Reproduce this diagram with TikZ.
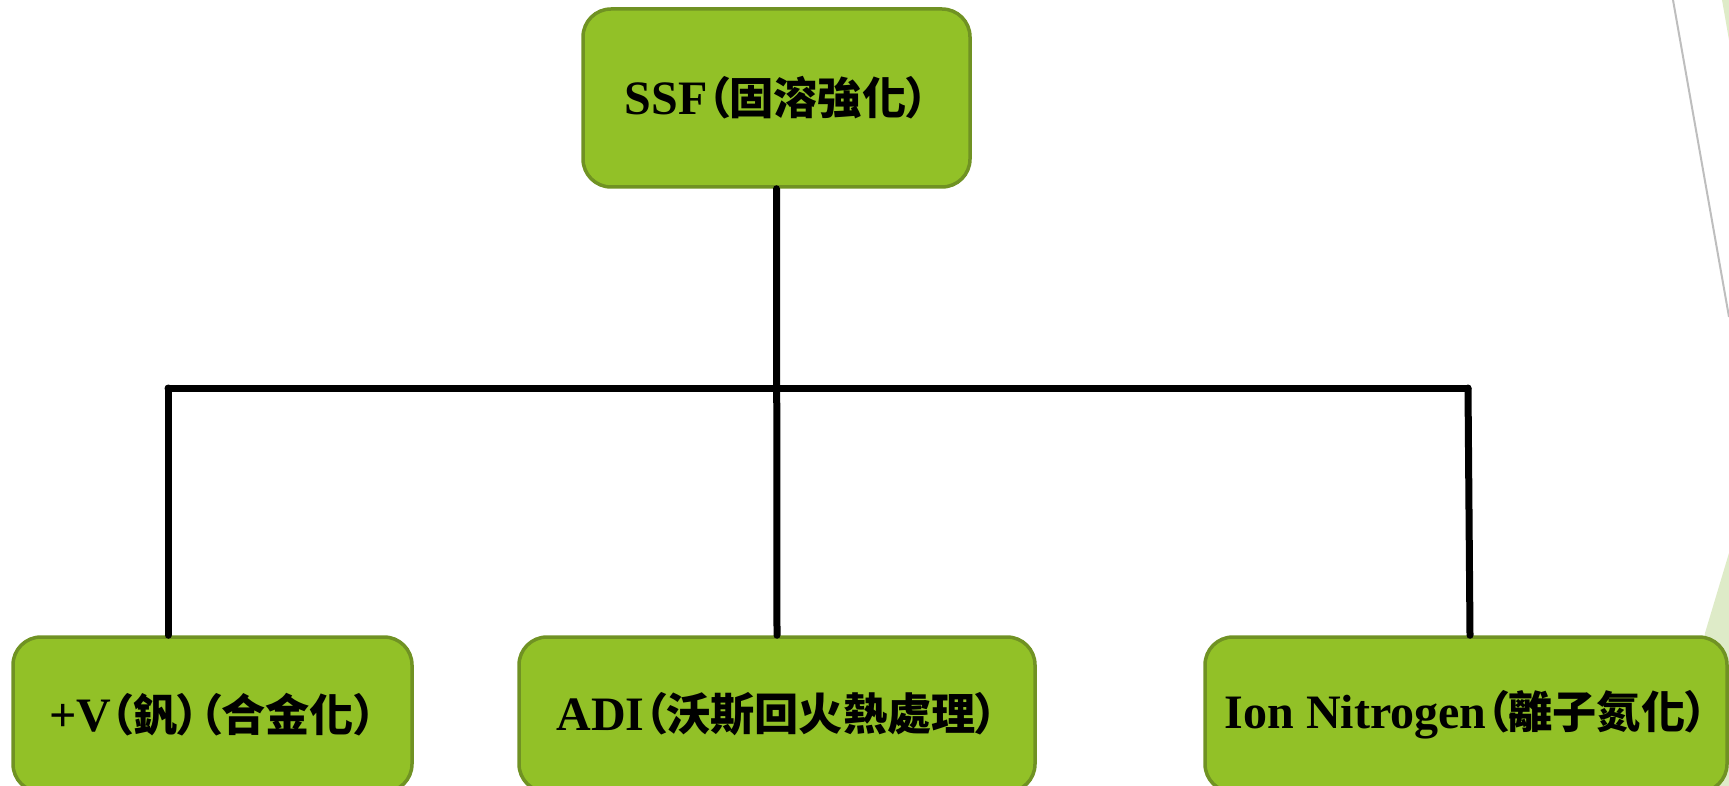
\documentclass[tikz,border=0pt]{standalone}
\usepackage{fontspec}
\setmainfont{Liberation Serif}
\newfontfamily\cjk{Noto Sans CJK TC}[RawFeature=+palt,Scale=0.92]
\definecolor{ssfcolor0000}{RGB}{146,193,39}
\definecolor{ssfcolor0001}{RGB}{112,146,35}
\definecolor{ssfcolor0002}{RGB}{222,235,200}
\definecolor{ssfcolor0003}{RGB}{190,190,190}

\begin{document}
\begin{tikzpicture}[yscale=-1
,box/.style={draw=ssfcolor0001,fill=ssfcolor0000,line width=1.75pt,rounded corners=14pt,inner sep=0pt,align=center,font=\fontsize{24}{28}\selectfont\bfseries}
,bus/.style={color=black,line width=3.5pt,line cap=round}
]
\useasboundingbox (0pt,0pt) rectangle (864.5pt,393pt);
% slide background
\fill[ssfcolor0002] (861pt,0pt) -- (864.5pt,0pt) -- (864.5pt,20pt) -- cycle;
\fill[ssfcolor0002] (864.5pt,276.5pt) -- (852.5pt,316.5pt) -- (845pt,393pt) -- (864.5pt,393pt) -- cycle;
\draw[color=ssfcolor0003,line width=1pt] (836.5pt,0pt) -- (864.5pt,158.5pt);
% boxes
\node[box,minimum width=193.5pt,minimum height=89pt] (ssf) at (388.25pt,49pt) {SSF{\cjk （固溶強化）}};
\node[box,minimum width=199.5pt,minimum height=77.5pt] (vanadium) at (106.25pt,357.25pt) {+V{\cjk （釩）（合金化）}};
\node[box,minimum width=258pt,minimum height=77.5pt] (adi) at (388.5pt,357.25pt) {ADI{\cjk （沃斯回火熱處理）}};
\node[box,minimum width=261pt,minimum height=77.5pt] (nitrogen) at (733pt,357.25pt) {Ion Nitrogen{\cjk （離子氮化）}};
% tree
\coordinate (busl) at (84pt,194pt);
\coordinate (busr) at (734pt,194pt);
\draw[bus] (ssf.south) -- (adi.north);
\draw[bus] (busl) -- (busr);
\draw[bus] (busl) -- (busl |- vanadium.north);
\draw[bus] (busr) -- ([xshift=2pt]nitrogen.north);
\end{tikzpicture}
\end{document}
